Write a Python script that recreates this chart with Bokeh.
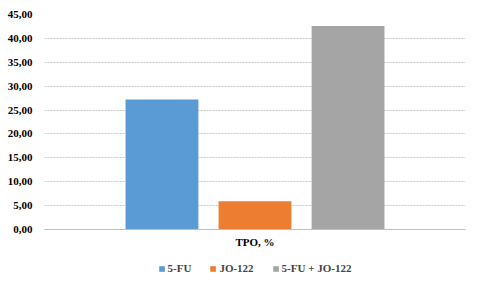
from bokeh.plotting import figure
from bokeh.layouts import column
from bokeh.models import Legend, CustomJSTickFormatter, FixedTicker, Range1d
from bokeh.transform import dodge
from bokeh.embed import file_html
from bokeh.resources import INLINE

category = ["ТРО, %"]
series = ["5-FU", "JO-122", "5-FU + JO-122"]
values = [27.2, 5.9, 42.6]
colors = ["#5b9bd5", "#ed7d31", "#a5a5a5"]
y_ticks = [0, 5, 10, 15, 20, 25, 30, 35, 40, 45]

FONT = "Liberation Serif"

p = figure(x_range=category, y_range=Range1d(0, 45), frame_width=421, frame_height=215,
           output_backend="svg", toolbar_location=None,
           min_border_left=44, min_border_right=1, min_border_top=14, min_border_bottom=0,
           border_fill_color="white")

offsets = [-0.221, 0.0, 0.221]
for s, v, c, o in zip(series, values, colors, offsets):
    p.vbar(x=dodge("x", o, range=p.x_range), top="top", width=0.173, bottom=0,
           source={"x": category, "top": [v]}, fill_color=c, line_color=None)

p.yaxis.ticker = FixedTicker(ticks=y_ticks)
p.yaxis.formatter = CustomJSTickFormatter(code="return tick.toFixed(2).replace('.', ',');")
p.yaxis.axis_line_color = None
p.yaxis.major_tick_line_color = None
p.yaxis.minor_tick_line_color = None
p.yaxis.major_label_text_font = FONT
p.yaxis.major_label_text_font_style = "bold"
p.yaxis.major_label_text_font_size = "11px"
p.yaxis.major_label_text_color = "#000000"
p.yaxis.major_label_standoff = 6

p.xaxis.axis_line_color = "#bfbfbf"
p.xaxis.major_tick_line_color = None
p.xaxis.minor_tick_line_color = None
p.xaxis.major_label_text_font = FONT
p.xaxis.major_label_text_font_style = "bold"
p.xaxis.major_label_text_font_size = "11px"
p.xaxis.major_label_text_color = "#000000"
p.xaxis.major_label_standoff = 0

p.xgrid.grid_line_color = None
p.ygrid.grid_line_color = "#c8c8c8"
p.ygrid.grid_line_dash = "2 1"
p.outline_line_color = None

# legend-only strip (zero-height bars just to carry the legend swatches)
lf = figure(width=466, height=36, output_backend="svg", toolbar_location=None,
            x_range=Range1d(0, 1), y_range=Range1d(0, 1),
            min_border=0, x_axis_type=None, y_axis_type=None)
lf.grid.visible = False
lf.outline_line_color = None
items = []
for s, c in zip(series, colors):
    r = lf.vbar(x=[0.5], top=[0], bottom=0, width=0, fill_color=c, line_color=None)
    items.append((s, [r]))
legend = Legend(items=items, orientation="horizontal", location="center",
                label_text_font=FONT, label_text_font_style="bold",
                label_text_font_size="11px", glyph_width=7, glyph_height=7,
                label_standoff=3, spacing=18, border_line_color=None,
                background_fill_alpha=0, padding=0, margin=0)
lf.add_layout(legend)

layout = column(p, lf, spacing=0)
open("out.html", "w").write(file_html(layout, INLINE))
